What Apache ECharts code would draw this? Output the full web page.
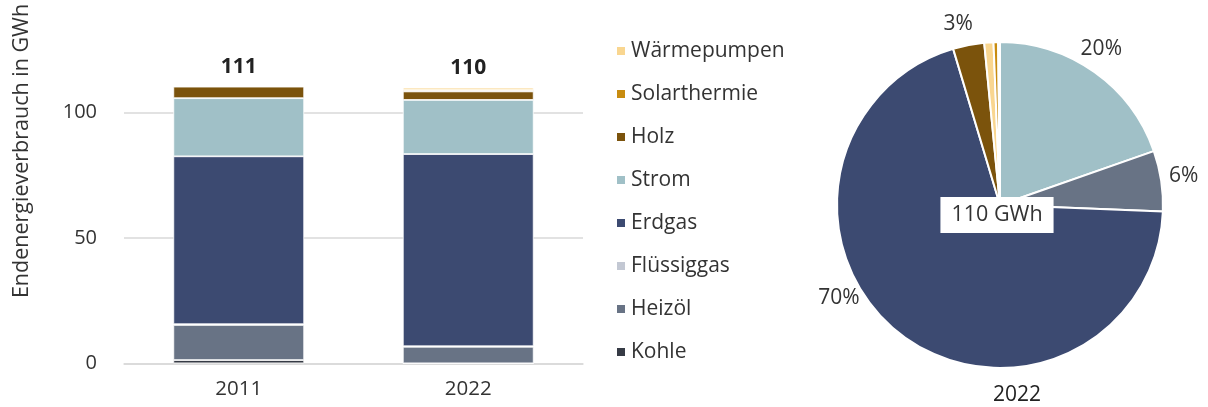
<!DOCTYPE html>
<html>
<head>
<meta charset="utf-8">
<script src="https://cdn.jsdelivr.net/npm/echarts@6/dist/echarts.min.js"></script>
<style>
html,body{margin:0;padding:0;background:#fff;}
#c{width:1208px;height:407px;}
</style>
</head>
<body>
<div id="c"></div>
<script>
var years = ['2011', '2022'];
var seriesNames = ['Kohle', 'Heizöl', 'Flüssiggas', 'Erdgas', 'Strom', 'Holz', 'Solarthermie', 'Wärmepumpen'];
var colors = ['#363b45', '#687385', '#c3c8d3', '#3c4a71', '#a0c0c7', '#7b530c', '#c88c10', '#f9d690'];
var kohle = [1.3, 0.0];
var heizoel = [14.0, 6.6];
var fluessiggas = [0.3, 0.2];
var erdgas = [67.0, 76.7];
var strom = [23.2, 21.6];
var holz = [4.6, 3.4];
var solarthermie = [0.2, 0.5];
var waermepumpen = [0.0, 1.0];
var totals = [111, 110];
var yTicks = [0, 50, 100];

// Pie 2022 (order clockwise from 12 o'clock)
var pieNames = ['Strom', 'Heizöl', 'Erdgas', 'Holz', 'Wärmepumpen', 'Solarthermie', 'Flüssiggas'];
var pieValues = [21.6, 6.6, 76.7, 3.4, 1.0, 0.5, 0.2];
var pieShowLabel = [true, true, true, true, false, false, false];
// label direction overrides (degrees clockwise from 12 o'clock), null = slice middle
var pieLabelAngle = [33, 81, 240, 347, null, null, null];
var pieTotalLabel = '110 GWh';
var pieYear = '2022';

var FONT = 'Open Sans';
var valuesList = [kohle, heizoel, fluessiggas, erdgas, strom, holz, solarthermie, waermepumpen];
var colorOf = {};
seriesNames.forEach(function (n, i) { colorOf[n] = colors[i]; });

var PIE_C = [1000, 205], PIE_R = 163, LABEL_R = 186;
var pieSum = pieValues.reduce(function (a, b) { return a + b; }, 0);
var midAngles = [];
(function () {
  var acc = 0;
  pieValues.forEach(function (v) {
    midAngles.push((acc + v / 2) / pieSum * 360);
    acc += v;
  });
})();

var series = seriesNames.map(function (name, i) {
  return {
    name: name,
    type: 'bar',
    stack: 'a',
    barWidth: '57%',
    data: valuesList[i],
    itemStyle: { color: colors[i], borderColor: '#fff', borderWidth: 0.8 }
  };
});
series.push({
  name: 'total',
  type: 'bar',
  stack: 'a',
  data: years.map(function () { return 0; }),
  itemStyle: { color: 'transparent' },
  label: {
    show: true,
    position: 'top',
    distance: 9,
    fontFamily: FONT,
    fontWeight: 'bold',
    fontSize: 21,
    color: '#222',
    formatter: function (p) { return totals[p.dataIndex]; }
  }
});

series.push({
  type: 'pie',
  center: PIE_C,
  radius: PIE_R,
  startAngle: 90,
  clockwise: true,
  avoidLabelOverlap: false,
  itemStyle: { borderColor: '#fff', borderWidth: 2 },
  label: {
    show: true,
    position: 'outside',
    fontFamily: FONT,
    fontSize: 21,
    color: '#333',
    formatter: function (p) { return Math.round(p.percent) + '%'; }
  },
  labelLine: { show: false, length: 6, length2: 0 },
  labelLayout: function (p) {
    var i = p.dataIndex;
    var a = (pieLabelAngle[i] != null ? pieLabelAngle[i] : midAngles[i]) * Math.PI / 180;
    return {
      x: PIE_C[0] + LABEL_R * Math.sin(a),
      y: PIE_C[1] - LABEL_R * Math.cos(a),
      align: 'center',
      verticalAlign: 'middle'
    };
  },
  data: pieNames.map(function (n, i) {
    return {
      name: n,
      value: pieValues[i],
      itemStyle: { color: colorOf[n] },
      label: { show: pieShowLabel[i] }
    };
  })
});

var chart = echarts.init(document.getElementById('c'));
chart.setOption({
  animation: false,
  backgroundColor: '#fff',
  grid: { left: 124, right: 625, top: 62.6, bottom: 43.7 },
  legend: {
    orient: 'vertical',
    left: 610,
    top: 35,
    itemWidth: 10,
    itemHeight: 10,
    itemGap: 21,
    icon: 'rect',
    data: seriesNames.slice().reverse(),
    textStyle: { fontFamily: FONT, fontSize: 21, color: '#333', lineHeight: 22 }
  },
  xAxis: {
    type: 'category',
    data: years,
    axisLine: { lineStyle: { color: '#d9d9d9', width: 1.5 } },
    axisTick: { show: false },
    axisLabel: { fontFamily: FONT, fontSize: 20.5, color: '#333', margin: 15 }
  },
  yAxis: {
    type: 'value',
    min: 0,
    max: 120,
    interval: 50,
    axisLine: { show: false },
    axisTick: { show: false },
    axisLabel: {
      fontFamily: FONT, fontSize: 20, color: '#333', margin: 27,
      showMaxLabel: false,
      formatter: function (v) { return yTicks.indexOf(v) >= 0 ? v : ''; }
    },
    splitLine: { lineStyle: { color: '#d9d9d9', width: 1.5 }, showMaxLine: false }
  },
  graphic: [
    {
      type: 'text',
      x: 22, y: 151,
      rotation: Math.PI / 2,
      style: {
        text: 'Endenergieverbrauch in GWh',
        fontFamily: FONT, fontSize: 21.5, fill: '#333',
        align: 'center', verticalAlign: 'middle'
      }
    },
    {
      type: 'text',
      x: 997, y: 215,
      z: 100,
      style: {
        text: pieTotalLabel,
        fontFamily: FONT, fontSize: 21.5, fill: '#333',
        align: 'center', verticalAlign: 'middle',
        backgroundColor: '#fff',
        padding: [8, 11, 6, 11]
      }
    },
    {
      type: 'text',
      x: 1017, y: 395,
      style: {
        text: pieYear,
        fontFamily: FONT, fontSize: 21, fill: '#222',
        align: 'center', verticalAlign: 'middle'
      }
    }
  ],
  series: series
});
</script>
</body>
</html>
